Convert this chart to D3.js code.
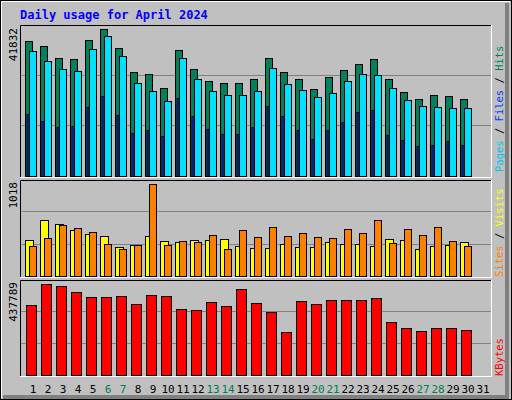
<!DOCTYPE html>
<html><head><meta charset="utf-8">
<script src="https://cdn.jsdelivr.net/npm/d3@7"></script>
<style>body{margin:0;background:#fff}svg{display:block}</style>
</head><body>
<script>
const days = d3.range(1,32);
const weekend = [6,7,13,14,20,21,27,28];
const hits = [37567,36173,32826,32547,37847,40914,35615,28922,28364,24459,35058,29758,26412,25854,25854,26969,32826,28922,26969,24180,27527,29479,31153,32547,26969,23344,21392,22507,22228,21392];
const files = [34779,31990,29758,29201,35336,38962,33384,25854,23623,20834,32826,26969,23623,22507,22507,23623,30038,25575,23902,21949,23065,26412,28364,28085,24459,21113,19439,19160,18881,18881];
const pages = [17208,15256,13582,13861,19160,22228,16929,11909,12746,11072,21670,16650,13024,11630,11630,13582,19439,16650,12746,10236,12746,14977,17766,18324,11351,9957,8283,8562,9678,8562];
const visits = [382,597,554,490,447,425,307,329,425,372,361,382,382,393,318,297,297,339,307,307,361,339,339,318,393,382,286,318,329,361];
const sites = [318,404,543,511,468,339,286,329,983,329,372,361,436,286,490,414,522,425,457,414,404,500,457,597,350,500,436,522,372,318];
const kbytes = [325920,423696,414384,386448,363168,363168,367824,330576,372480,367824,307296,302640,339888,321264,400416,335232,293328,200208,344544,330576,349200,349200,349200,358512,246768,218832,204864,218832,218832,209520];
const maxHits = 41832, maxVisits = 1018, maxKB = 437789;

const W=512,H=400;
const svg=d3.select("body").append("svg").attr("width",W).attr("height",H);
const font="'DejaVu Sans Mono',monospace";
svg.append("rect").attr("width",W).attr("height",H).attr("fill","#c0c0c0");
svg.append("rect").attr("x",0.5).attr("y",0.5).attr("width",W-1).attr("height",H-1).attr("fill","none").attr("stroke","#000");
svg.append("path").attr("d","M1.5,398V1.5H510").attr("stroke","#fff").attr("fill","none");
svg.append("path").attr("d","M507,3V397H3").attr("stroke","#808080").attr("stroke-width",4).attr("fill","none");

const x = d3.scaleLinear().domain([1,31]).range([25,475]);
const L=20,R=491;
function panel(top,bot,maxv){
  svg.append("rect").attr("x",L).attr("y",top).attr("width",R-L).attr("height",bot-top).attr("fill","#c0c0c0");
  const y=d3.scaleLinear().domain([0,maxv]).range([bot-1,top+1]);
  [1/3,2/3].forEach(f=>{const gy=Math.round(bot-1-(bot-top)*f)+0.5;
    svg.append("line").attr("x1",L).attr("x2",R).attr("y1",gy).attr("y2",gy).attr("stroke","#808080");});
  return y;
}
function frame(top,bot){
  svg.append("path").attr("d",`M${L+0.5},${bot}V${top+0.5}H${R}`).attr("stroke","#000").attr("fill","none");
  svg.append("path").attr("d",`M${R+0.5},${top}V${bot+0.5}H${L}`).attr("stroke","#fff").attr("fill","none");
}
function bars(data,y,dx,w,color){
  svg.append("g").selectAll("rect").data(data).join("rect")
    .attr("x",(d,i)=>x(i+1)+dx+0.5).attr("width",w)
    .attr("y",d=>Math.round(y(d))+0.5).attr("height",d=>y(0)-Math.round(y(d)))
    .attr("fill",color).attr("stroke","#000");
}
const y1=panel(25,177,maxHits);
bars(hits,y1,0,7,"#00805c");
bars(files,y1,4,7,"#00e0ff");
bars(pages,y1,1.5,2,"#0040ff");
frame(25,177);
const y2=panel(180,277,maxVisits);
bars(visits,y2,0,8,"#ffff00");
bars(sites,y2,4,7,"#ff8000");
frame(180,277);
const y3=panel(280,376,maxKB);
bars(kbytes,y3,1,10,"#ff0000");
frame(280,376);

svg.append("text").attr("x",20).attr("y",19).text("Daily usage for April 2024")
  .attr("font-family",font).attr("font-weight","bold").attr("font-size",12).attr("fill","#0000ff");
svg.append("g").selectAll("text").data(days).join("text")
  .attr("x",d=>x(d)+8).attr("y",393).attr("text-anchor","middle")
  .attr("font-family",font).attr("font-size",11)
  .attr("fill",d=>weekend.includes(d)?"#007f4f":"#000").text(d=>d);
function vlabel(txt,yTop){
  svg.append("text").attr("transform",`translate(17,${yTop}) rotate(-90)`).attr("text-anchor","end")
    .attr("font-family",font).attr("font-size",11).attr("fill","#000").text(txt);
}
vlabel(maxHits,28);vlabel(maxVisits,182);vlabel(maxKB,282);
function rlabel(parts,yBot){
  const t=svg.append("text").attr("transform",`translate(503,${yBot}) rotate(-90)`)
    .attr("font-family",font).attr("font-size",10.5);
  parts.forEach(p=>t.append("tspan").attr("fill",p[1]).text(p[0]));
}
rlabel([["Pages","#00c8e8"],[" / ","#000"],["Files","#0040ff"],[" / ","#000"],["Hits","#00805c"]],172);
rlabel([["Sites","#ff8000"],[" / ","#000"],["Visits","#ffff00"]],277);
rlabel([["KBytes","#ff0000"]],376);
</script>
</body></html>
